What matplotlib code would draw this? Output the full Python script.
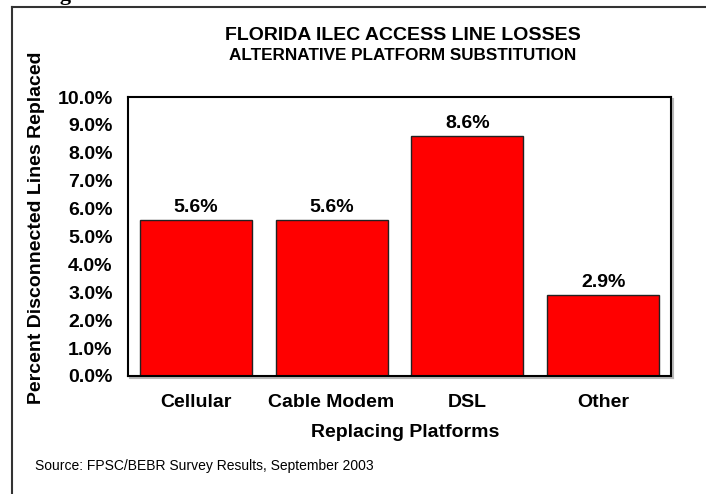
import matplotlib
matplotlib.use('Agg')
import matplotlib.pyplot as plt
from matplotlib.lines import Line2D

plt.rcParams['font.family'] = ['Liberation Sans', 'DejaVu Sans']

# data
platforms = ['Cellular', 'Cable Modem', 'DSL', 'Other']
pct_replaced = [5.6, 5.6, 8.6, 2.9]
y_ticks = [0, 1, 2, 3, 4, 5, 6, 7, 8, 9, 10]

W, H = 706, 494
fig = plt.figure(figsize=(W / 100, H / 100), dpi=100)

def px(x, y):
    # pixel coords (from top-left) -> figure fraction
    return x / W, 1 - y / H

# plot area
ax = fig.add_axes([128 / W, 1 - 376 / H, 543 / W, 279 / H])
x = range(len(platforms))
bars = ax.bar(x, pct_replaced, width=0.825, color='#ff0000',
              edgecolor='#222222', linewidth=1.0)
for b, v in zip(bars, pct_replaced):
    ax.annotate(f'{v:.1f}%', (b.get_x() + b.get_width() / 2, v),
                xytext=(0, 3), textcoords='offset points',
                ha='center', va='bottom', fontsize=14, fontweight='bold')

ax.set_xlim(-0.5, len(platforms) - 0.5)
ax.set_ylim(0, 10)
ax.set_yticks(y_ticks)
ax.set_yticklabels([f'{t:.1f}%' for t in y_ticks], fontsize=14, fontweight='bold')
ax.set_xticks(list(x))
ax.set_xticklabels(platforms, fontsize=14, fontweight='bold')
ax.tick_params(axis='y', length=0, pad=11)
ax.tick_params(axis='x', length=0, pad=13)
for s in ax.spines.values():
    s.set_linewidth(1.5)
    s.set_color('black')

# soft shadow along the right and bottom of the plot frame
shadow = dict(color='#b8b8b8', linewidth=1.5, transform=fig.transFigure, zorder=0)
fig.add_artist(Line2D([130 / W, 673 / W], [1 - 378 / H, 1 - 378 / H], **shadow))
fig.add_artist(Line2D([673 / W, 673 / W], [1 - 99 / H, 1 - 378 / H], **shadow))

# titles and axis labels
fig.text(*px(403, 35), 'FLORIDA ILEC ACCESS LINE LOSSES', ha='center', va='center',
         fontsize=14, fontweight='bold')
fig.text(*px(403, 56), 'ALTERNATIVE PLATFORM SUBSTITUTION', ha='center', va='center',
         fontsize=12.3, fontweight='bold')
fig.text(*px(405, 432), 'Replacing Platforms', ha='center', va='center',
         fontsize=14, fontweight='bold')
fig.text(*px(37, 228), 'Percent Disconnected Lines Replaced', ha='center', va='center',
         rotation=90, fontsize=14, fontweight='bold')
fig.text(*px(35, 466), 'Source: FPSC/BEBR Survey Results, September 2003',
         ha='left', va='center', fontsize=10)

# heading above the frame, mostly cut off by the top edge
fig.text(*px(40, 0), 'Figure 6', ha='left', va='baseline', fontsize=16,
         fontweight='bold', family='Liberation Serif')

# outer frame (left and top edges)
fig.add_artist(Line2D([12 / W, 12 / W], [0, 1 - 7 / H], color='#333333',
                      linewidth=1.5, transform=fig.transFigure))
fig.add_artist(Line2D([12 / W, 1], [1 - 7 / H, 1 - 7 / H], color='#333333',
                      linewidth=1.5, transform=fig.transFigure))

fig.savefig('out.png', dpi=100)
